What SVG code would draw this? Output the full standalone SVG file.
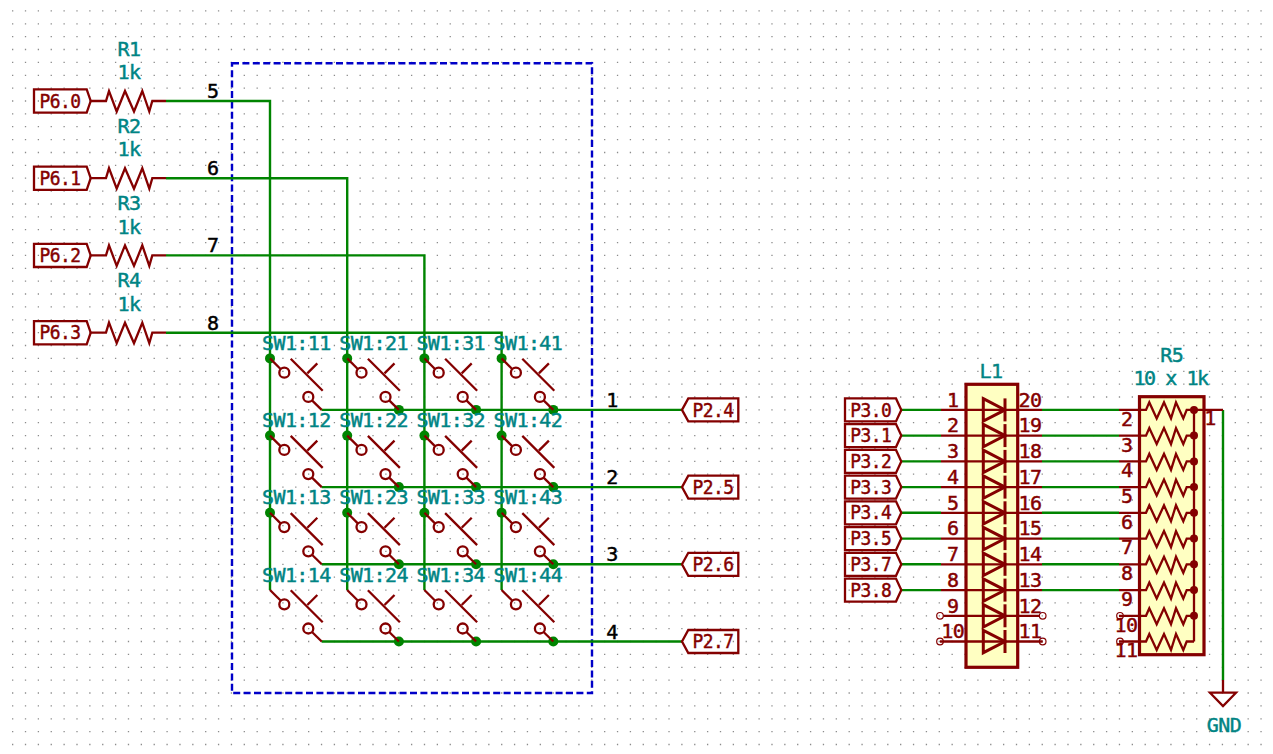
<svg xmlns="http://www.w3.org/2000/svg" width="1273" height="754" viewBox="0 0 1273 754">
<style>
text{font-family:"DejaVu Sans Mono","Liberation Mono",monospace;font-size:20px;letter-spacing:-.6px;text-anchor:middle;stroke-width:.45px}
.t{fill:#008484;stroke:#008484}.r{fill:#840000;stroke:#840000}.k{fill:#000;stroke:#000}
.sl{text-anchor:start}
.grid{fill:none;stroke:#8c8c8c;stroke-width:1.3;stroke-dasharray:1.3 11.57}
.w{fill:none;stroke:#008400;stroke-width:2.4}
.j{fill:#008400}
.p{fill:none;stroke:#840000;stroke-width:2.3}
.b{fill:#ffffc2;stroke:#840000;stroke-width:3.2}
.o{fill:none;stroke:#840000;stroke-width:1.2}
.d{fill:#840000}
.box{fill:none;stroke:#0000c8;stroke-width:2.4;stroke-dasharray:7 3.4}
</style>
<defs>
<g id="sw" class="p"><line x1="0" y1="0" x2="10.8" y2="10.8"/><circle cx="14.3" cy="14.3" r="5"/><line x1="20.7" y1="0.3" x2="52.7" y2="32.3"/><line x1="47.3" y1="5" x2="37.3" y2="15"/><circle cx="38.3" cy="38.5" r="5"/><line x1="42" y1="42" x2="51.7" y2="51.5"/></g>
<polyline id="res" class="p" points="90.7,0 106,0 109,-10 116.7,10.5 125,-10 134,10.5 142.3,-10 149.3,10.5 152.3,0 166,0"/>
<polyline id="rz" class="p" points="1119,0 1146,0 1149.3,-7.5 1156.7,8.5 1164,-7.5 1171,8.5 1176,-7.5 1183.3,8.5 1186.7,0 1194,0"/>
<polygon id="lin" class="p" points="34,-11.6 86.7,-11.6 90.7,0 86.7,11.6 34,11.6"/>
<polygon id="lil" class="p" points="845,-11.5 896,-11.5 901.3,0 896,11.5 845,11.5"/>
<polygon id="lout" class="p" points="682,0 688.3,-11.5 738.3,-11.5 738.3,11.5 688.3,11.5"/>
<g id="led" fill="none" stroke="#840000" stroke-width="3"><polygon points="983.3,-11.2 1005,0 983.3,11.2"/><line x1="1005" y1="-11.5" x2="1005" y2="11.5"/></g>
<circle id="j" class="j" r="5"/>
<circle id="rd" class="d" r="4"/>
</defs>
<path id="grid" class="grid" d="M12 10.9H1273M12 23.8H1273M12 36.6H1273M12 49.5H1273M12 62.4H1273M12 75.3H1273M12 88.1H1273M12 101H1273M12 113.9H1273M12 126.7H1273M12 139.6H1273M12 152.5H1273M12 165.3H1273M12 178.2H1273M12 191.1H1273M12 204H1273M12 216.8H1273M12 229.7H1273M12 242.6H1273M12 255.4H1273M12 268.3H1273M12 281.2H1273M12 294H1273M12 306.9H1273M12 319.8H1273M12 332.7H1273M12 345.5H1273M12 358.4H1273M12 371.3H1273M12 384.1H1273M12 397H1273M12 409.9H1273M12 422.7H1273M12 435.6H1273M12 448.5H1273M12 461.4H1273M12 474.2H1273M12 487.1H1273M12 500H1273M12 512.8H1273M12 525.7H1273M12 538.6H1273M12 551.4H1273M12 564.3H1273M12 577.2H1273M12 590.1H1273M12 602.9H1273M12 615.8H1273M12 628.7H1273M12 641.5H1273M12 654.4H1273M12 667.3H1273M12 680.1H1273M12 693H1273M12 705.9H1273M12 718.8H1273M12 731.6H1273M12 744.5H1273"/>
<rect id="matrix-box" class="box" x="232" y="63.2" width="360" height="629.8"/>
<g id="connectors">
<path class="w" d="M166 101H270V590M166 178.2H347.2V590M166 255.4H424.4V590M166 332.7H501.6V590M321.7 409.9H682M321.7 487.1H682M321.7 564.3H682M321.7 641.5H682"/>
<path class="w" d="M901.3 409.9H941M901.3 435.6H941M901.3 461.4H941M901.3 487.1H941M901.3 512.8H941M901.3 538.6H941M901.3 564.3H941M901.3 590.1H941M1042 409.9H1119M1042 435.6H1119M1042 461.4H1119M1042 487.1H1119M1042 512.8H1119M1042 538.6H1119M1042 564.3H1119M1042 590.1H1119M1223 409.9V680"/>
<g id="junctions">
<use href="#j" x="270" y="358.4"/><use href="#j" x="347.2" y="358.4"/><use href="#j" x="424.4" y="358.4"/><use href="#j" x="501.6" y="358.4"/>
<use href="#j" x="270" y="435.6"/><use href="#j" x="347.2" y="435.6"/><use href="#j" x="424.4" y="435.6"/><use href="#j" x="501.6" y="435.6"/>
<use href="#j" x="270" y="512.8"/><use href="#j" x="347.2" y="512.8"/><use href="#j" x="424.4" y="512.8"/><use href="#j" x="501.6" y="512.8"/>
<use href="#j" x="398.9" y="409.9"/><use href="#j" x="476.1" y="409.9"/><use href="#j" x="553.3" y="409.9"/>
<use href="#j" x="398.9" y="487.1"/><use href="#j" x="476.1" y="487.1"/><use href="#j" x="553.3" y="487.1"/>
<use href="#j" x="398.9" y="564.3"/><use href="#j" x="476.1" y="564.3"/><use href="#j" x="553.3" y="564.3"/>
<use href="#j" x="398.9" y="641.5"/><use href="#j" x="476.1" y="641.5"/><use href="#j" x="553.3" y="641.5"/>
</g>
<g id="net-labels">
<text class="k" x="212.7" y="98">5</text><text class="k" x="212.7" y="175.2">6</text><text class="k" x="212.7" y="252.4">7</text><text class="k" x="212.7" y="329.7">8</text>
<text class="k" x="612" y="407">1</text><text class="k" x="612" y="484.2">2</text><text class="k" x="612" y="561.4">3</text><text class="k" x="612" y="638.6">4</text>
</g>
</g>
<g id="P6.0"><use href="#lin" y="101"/><text class="r" x="60" y="107.6" textLength="41" lengthAdjust="spacingAndGlyphs">P6.0</text></g>
<g id="P6.1"><use href="#lin" y="178.2"/><text class="r" x="60" y="184.8" textLength="41" lengthAdjust="spacingAndGlyphs">P6.1</text></g>
<g id="P6.2"><use href="#lin" y="255.4"/><text class="r" x="60" y="262" textLength="41" lengthAdjust="spacingAndGlyphs">P6.2</text></g>
<g id="P6.3"><use href="#lin" y="332.7"/><text class="r" x="60" y="339.3" textLength="41" lengthAdjust="spacingAndGlyphs">P6.3</text></g>
<g id="R1"><use href="#res" y="101"/><text class="t" x="129" y="55.7">R1</text><text class="t" x="129" y="79">1k</text></g>
<g id="R2"><use href="#res" y="178.2"/><text class="t" x="129" y="133">R2</text><text class="t" x="129" y="156.3">1k</text></g>
<g id="R3"><use href="#res" y="255.4"/><text class="t" x="129" y="210.2">R3</text><text class="t" x="129" y="233.5">1k</text></g>
<g id="R4"><use href="#res" y="332.7"/><text class="t" x="129" y="287.4">R4</text><text class="t" x="129" y="310.7">1k</text></g>
<g id="SW1_11"><use href="#sw" x="270" y="358.4"/><text class="t sl" x="262" y="350">SW1:11</text></g>
<g id="SW1_21"><use href="#sw" x="347.2" y="358.4"/><text class="t sl" x="339.2" y="350">SW1:21</text></g>
<g id="SW1_31"><use href="#sw" x="424.4" y="358.4"/><text class="t sl" x="416.4" y="350">SW1:31</text></g>
<g id="SW1_41"><use href="#sw" x="501.6" y="358.4"/><text class="t sl" x="493.6" y="350">SW1:41</text></g>
<g id="SW1_12"><use href="#sw" x="270" y="435.6"/><text class="t sl" x="262" y="427.2">SW1:12</text></g>
<g id="SW1_22"><use href="#sw" x="347.2" y="435.6"/><text class="t sl" x="339.2" y="427.2">SW1:22</text></g>
<g id="SW1_32"><use href="#sw" x="424.4" y="435.6"/><text class="t sl" x="416.4" y="427.2">SW1:32</text></g>
<g id="SW1_42"><use href="#sw" x="501.6" y="435.6"/><text class="t sl" x="493.6" y="427.2">SW1:42</text></g>
<g id="SW1_13"><use href="#sw" x="270" y="512.8"/><text class="t sl" x="262" y="504.4">SW1:13</text></g>
<g id="SW1_23"><use href="#sw" x="347.2" y="512.8"/><text class="t sl" x="339.2" y="504.4">SW1:23</text></g>
<g id="SW1_33"><use href="#sw" x="424.4" y="512.8"/><text class="t sl" x="416.4" y="504.4">SW1:33</text></g>
<g id="SW1_43"><use href="#sw" x="501.6" y="512.8"/><text class="t sl" x="493.6" y="504.4">SW1:43</text></g>
<g id="SW1_14"><use href="#sw" x="270" y="590"/><text class="t sl" x="262" y="581.6">SW1:14</text></g>
<g id="SW1_24"><use href="#sw" x="347.2" y="590"/><text class="t sl" x="339.2" y="581.6">SW1:24</text></g>
<g id="SW1_34"><use href="#sw" x="424.4" y="590"/><text class="t sl" x="416.4" y="581.6">SW1:34</text></g>
<g id="SW1_44"><use href="#sw" x="501.6" y="590"/><text class="t sl" x="493.6" y="581.6">SW1:44</text></g>
<g id="P2.4"><use href="#lout" y="409.9"/><text class="r" x="713" y="416.5" textLength="41" lengthAdjust="spacingAndGlyphs">P2.4</text></g>
<g id="P2.5"><use href="#lout" y="487.1"/><text class="r" x="713" y="493.7" textLength="41" lengthAdjust="spacingAndGlyphs">P2.5</text></g>
<g id="P2.6"><use href="#lout" y="564.3"/><text class="r" x="713" y="570.9" textLength="41" lengthAdjust="spacingAndGlyphs">P2.6</text></g>
<g id="P2.7"><use href="#lout" y="641.5"/><text class="r" x="713" y="648.1" textLength="41" lengthAdjust="spacingAndGlyphs">P2.7</text></g>
<g id="P3.0"><use href="#lil" y="409.9"/><text class="r" x="870.7" y="416.5" textLength="41" lengthAdjust="spacingAndGlyphs">P3.0</text></g>
<g id="P3.1"><use href="#lil" y="435.6"/><text class="r" x="870.7" y="442.2" textLength="41" lengthAdjust="spacingAndGlyphs">P3.1</text></g>
<g id="P3.2"><use href="#lil" y="461.4"/><text class="r" x="870.7" y="468" textLength="41" lengthAdjust="spacingAndGlyphs">P3.2</text></g>
<g id="P3.3"><use href="#lil" y="487.1"/><text class="r" x="870.7" y="493.7" textLength="41" lengthAdjust="spacingAndGlyphs">P3.3</text></g>
<g id="P3.4"><use href="#lil" y="512.8"/><text class="r" x="870.7" y="519.4" textLength="41" lengthAdjust="spacingAndGlyphs">P3.4</text></g>
<g id="P3.5"><use href="#lil" y="538.6"/><text class="r" x="870.7" y="545.2" textLength="41" lengthAdjust="spacingAndGlyphs">P3.5</text></g>
<g id="P3.7"><use href="#lil" y="564.3"/><text class="r" x="870.7" y="570.9" textLength="41" lengthAdjust="spacingAndGlyphs">P3.7</text></g>
<g id="P3.8"><use href="#lil" y="590.1"/><text class="r" x="870.7" y="596.7" textLength="41" lengthAdjust="spacingAndGlyphs">P3.8</text></g>
<g id="L1">
<rect class="b" x="966" y="384.3" width="51.7" height="283"/>
<path class="p" d="M941 409.9H1042M941 435.6H1042M941 461.4H1042M941 487.1H1042M941 512.8H1042M941 538.6H1042M941 564.3H1042M941 590.1H1042M943.3 615.8H1039.4M940 641.5H1042.7"/>
<use href="#led" y="409.9"/><use href="#led" y="435.6"/><use href="#led" y="461.4"/><use href="#led" y="487.1"/><use href="#led" y="512.8"/><use href="#led" y="538.6"/><use href="#led" y="564.3"/><use href="#led" y="590.1"/><use href="#led" y="615.8"/><use href="#led" y="641.5"/>
<circle class="o" cx="940" cy="615.8" r="3.3"/><circle class="o" cx="940" cy="641.5" r="3.3"/><circle class="o" cx="1042.7" cy="615.8" r="3.3"/><circle class="o" cx="1042.7" cy="641.5" r="3.3"/>
<text class="t" x="991" y="378">L1</text>
<g><text class="r" x="952.7" y="406.7">1</text><text class="r" x="952.7" y="432.4">2</text><text class="r" x="952.7" y="458.2">3</text><text class="r" x="952.7" y="483.9">4</text><text class="r" x="952.7" y="509.6">5</text><text class="r" x="952.7" y="535.4">6</text><text class="r" x="952.7" y="561.1">7</text><text class="r" x="952.7" y="586.9">8</text><text class="r" x="952.7" y="612.6">9</text><text class="r" x="952.7" y="638.3">10</text>
<text class="r" x="1030" y="406.7">20</text><text class="r" x="1030" y="432.4">19</text><text class="r" x="1030" y="458.2">18</text><text class="r" x="1030" y="483.9">17</text><text class="r" x="1030" y="509.6">16</text><text class="r" x="1030" y="535.4">15</text><text class="r" x="1030" y="561.1">14</text><text class="r" x="1030" y="586.9">13</text><text class="r" x="1030" y="612.6">12</text><text class="r" x="1030" y="638.3">11</text></g>
</g>
<g id="R5">
<rect class="b" x="1139.5" y="396.7" width="64.5" height="258"/>
<use href="#rz" y="409.9"/><use href="#rz" y="435.6"/><use href="#rz" y="461.4"/><use href="#rz" y="487.1"/><use href="#rz" y="512.8"/><use href="#rz" y="538.6"/><use href="#rz" y="564.3"/><use href="#rz" y="590.1"/><use href="#rz" y="615.8"/><use href="#rz" y="641.5"/>
<path class="p" d="M1194 409.9V641.5M1194 409.9H1223"/>
<use href="#rd" x="1194" y="409.9"/><use href="#rd" x="1194" y="435.6"/><use href="#rd" x="1194" y="461.4"/><use href="#rd" x="1194" y="487.1"/><use href="#rd" x="1194" y="512.8"/><use href="#rd" x="1194" y="538.6"/><use href="#rd" x="1194" y="564.3"/><use href="#rd" x="1194" y="590.1"/><use href="#rd" x="1194" y="615.8"/>
<circle class="o" cx="1120" cy="615.8" r="3.3"/><circle class="o" cx="1120" cy="641.5" r="3.3"/>
<text class="t" x="1171.7" y="361.7">R5</text><text class="t" x="1171" y="385" textLength="75" lengthAdjust="spacing">10 x 1k</text>
<g><text class="r" x="1126.7" y="425.7">2</text><text class="r" x="1126.7" y="451.5">3</text><text class="r" x="1126.7" y="477.2">4</text><text class="r" x="1126.7" y="503">5</text><text class="r" x="1126.7" y="528.7">6</text><text class="r" x="1126.7" y="554.4">7</text><text class="r" x="1126.7" y="580.2">8</text><text class="r" x="1126.7" y="605.9">9</text><text class="r" x="1126" y="631.6">10</text><text class="r" x="1126" y="657.4">11</text><text class="r" x="1210" y="425">1</text></g>
</g>
<g id="GND"><path class="p" d="M1223 680V692.7M1210 692.7H1236L1223 706Z"/><text class="t" x="1224" y="731.7">GND</text></g>
</svg>
